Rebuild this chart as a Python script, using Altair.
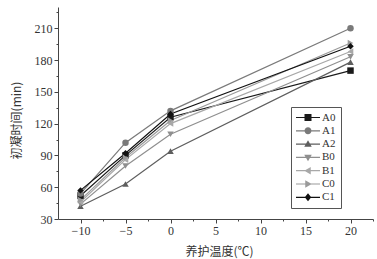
import altair as alt
import pandas as pd

temps = [-10, -5, 0, 20]
series = ["A0", "A1", "A2", "B0", "B1", "C0", "C1"]
values = {
    "A0": [52, 90, 126, 170],
    "A1": [54, 102, 132, 210],
    "A2": [42, 63, 94, 178],
    "B0": [44, 80, 110, 183],
    "B1": [46, 86, 120, 188],
    "C0": [48, 88, 123, 196],
    "C1": [57, 92, 129, 193],
}
colors = ["#1a1a1a", "#7a7a7a", "#5e5e5e", "#8f8f8f", "#a8a8a8", "#9a9a9a", "#111111"]
shapes = ["square", "circle", "triangle-up", "triangle-down", "triangle-left", "triangle-right", "diamond"]

# legend glyphs: line segment + marker (custom SVG paths)
LINE = "M-1.1,-0.12H3.7V0.12H-1.1Z"
leg_shapes = [
    LINE + " M0.6,-0.7H2.0V0.7H0.6Z",
    LINE + " M2.0,0A0.7,0.7 0 1,1 0.6,0A0.7,0.7 0 1,1 2.0,0Z",
    LINE + " M1.3,-0.75L2.05,0.55L0.55,0.55Z",
    LINE + " M1.3,0.75L0.55,-0.55L2.05,-0.55Z",
    LINE + " M0.55,0L1.85,-0.75L1.85,0.75Z",
    LINE + " M2.05,0L0.75,0.75L0.75,-0.75Z",
    LINE + " M1.3,-0.8L1.95,0L1.3,0.8L0.65,0Z",
]

rows = []
for s in series:
    for t, v in zip(temps, values[s]):
        rows.append({"temp": t, "time": v, "series": s})
df = pd.DataFrame(rows)

serif = "Times New Roman, Liberation Serif, serif"
cjk = "Noto Sans CJK SC"
txt = "#333333"
axc = "#444444"

x_ticks = [-10 + 2.5 * i for i in range(14)]
y_ticks = [30 + 15 * i for i in range(14)]

x = alt.X(
    "temp:Q",
    scale=alt.Scale(domain=[-12.5, 22.5], nice=False, zero=False),
    axis=alt.Axis(
        title="养护温度(℃)",
        values=x_ticks,
        labelExpr="datum.value % 5 === 0 ? datum.label : ''",
        tickSize={"condition": {"test": "datum.value % 5 === 0", "value": 4}, "value": 2},
        titleX=161, titleY=32, titleBaseline="middle", titleAlign="center",
    ),
)
y = alt.Y(
    "time:Q",
    scale=alt.Scale(domain=[30, 230], nice=False, zero=False),
    axis=alt.Axis(
        title="初凝时间(min)",
        values=y_ticks,
        labelExpr="datum.value % 30 === 0 ? datum.label : ''",
        tickSize={"condition": {"test": "datum.value % 30 === 0", "value": 4}, "value": 2},
        titleX=-42, titleY=113, titleBaseline="middle", titleAlign="center", titleAngle=-90,
    ),
)

color_main = alt.Color("series:N", scale=alt.Scale(domain=series, range=colors), legend=None)
shape_main = alt.Shape("series:N", scale=alt.Scale(domain=series, range=shapes), legend=None)

lines = alt.Chart(df).mark_line(strokeWidth=1.2).encode(x=x, y=y, color=color_main, detail="series:N")
points = alt.Chart(df).mark_point(filled=True, size=42, opacity=1).encode(
    x=x, y=y, color=color_main, shape=shape_main
)

legend_layer = alt.Chart(df).transform_filter("datum.temp > 999").mark_point(
    filled=True, opacity=1
).encode(
    x=x,
    y=y,
    color=alt.Color(
        "series:N",
        scale=alt.Scale(domain=series, range=colors),
        legend=alt.Legend(
            title=None,
            orient="none",
            legendX=233,
            legendY=100,
            symbolSize=100,
            symbolStrokeWidth=0,
            labelFont=serif,
            labelFontSize=11,
            labelColor=txt,
            labelOffset=15,
            padding=5,
            rowPadding=1.3,
            strokeColor="#555555",
            fillColor="white",
        ),
    ),
    shape=alt.Shape(
        "series:N",
        scale=alt.Scale(domain=series, range=leg_shapes),
        legend=alt.Legend(title=None),
    ),
)

chart = (
    alt.layer(lines, points, legend_layer)
    .resolve_scale(color="independent", shape="independent")
    .properties(
        width=315,
        height=212,
        autosize=alt.AutoSizeParams(type="none"),
        padding={"left": 58, "top": 7, "right": 4, "bottom": 40},
        background="white",
    )
    .configure_view(stroke=None)
    .configure_axis(
        grid=False,
        domainColor=axc,
        tickColor=axc,
        domainWidth=1,
        tickWidth=1,
        labelFont=serif,
        labelFontSize=12,
        labelColor=txt,
        labelPadding=2,
        titleFont=cjk,
        titleFontSize=12,
        titleFontWeight="normal",
        titleColor=txt,
    )
)

chart.save("out.html", embed_options={"renderer": "svg", "actions": False})
